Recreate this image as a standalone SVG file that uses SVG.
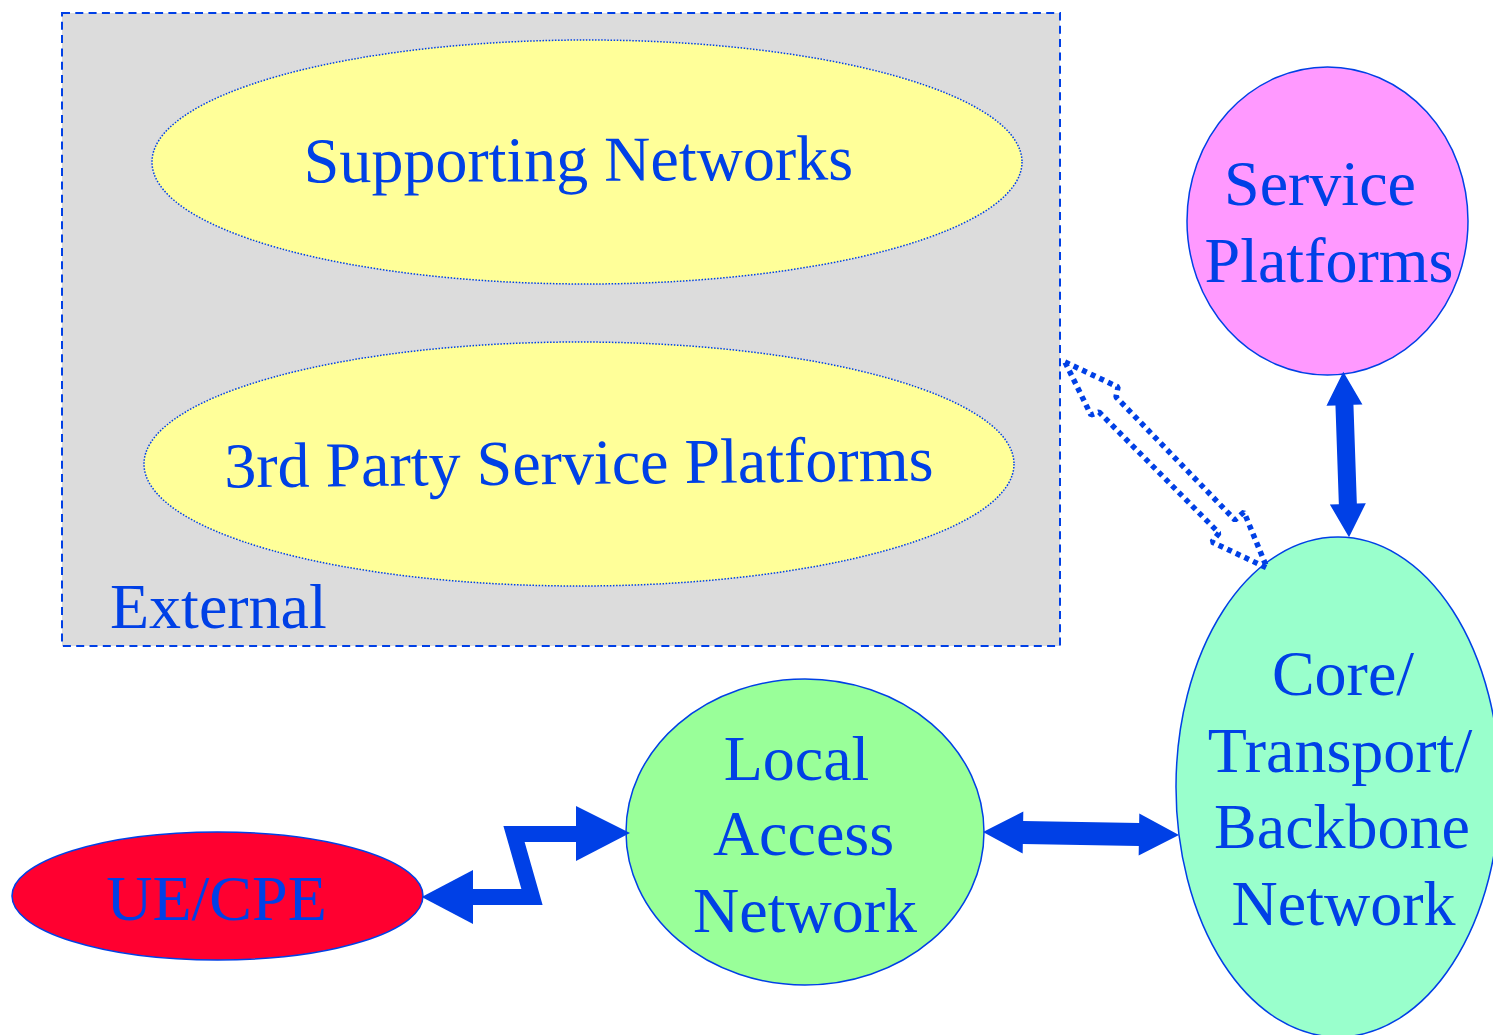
<svg xmlns="http://www.w3.org/2000/svg" width="1493" height="1035" viewBox="0 0 1493 1035">
  <style>
    .lbl { font-family: "Liberation Serif", "Times New Roman", serif; font-size: 64px; fill: #0040e6; text-anchor: middle; }
    .node { stroke: #0040e6; stroke-width: 1.5; }
    .dotted { stroke: #0040e6; stroke-width: 1.5; stroke-dasharray: 1.5 1.6; fill: #ffff99; }
    .arrow { fill: #0040e6; stroke: none; }
  </style>
  <rect width="1493" height="1035" fill="#ffffff"/>

  <!-- External domain container -->
  <g id="external">
    <rect x="62" y="13" width="998" height="633" fill="#dcdcdc" stroke="#0040e6" stroke-width="2" stroke-dasharray="8 5.3"/>
    <text class="lbl" x="110" y="628" style="text-anchor:start">External</text>
  </g>

  <g id="supporting-networks">
    <ellipse class="dotted" cx="587" cy="162" rx="435" ry="122"/>
    <text class="lbl" x="578.5" y="181" transform="rotate(-0.3 578.5 181)">Supporting Networks</text>
  </g>

  <g id="third-party-platforms">
    <ellipse class="dotted" cx="579" cy="464" rx="435" ry="122"/>
    <text class="lbl" x="579" y="484" transform="rotate(-0.55 579 484)">3rd Party Service Platforms</text>
  </g>

  <g id="service-platforms">
    <ellipse class="node" cx="1327.5" cy="221" rx="140.5" ry="154" fill="#ff99ff"/>
    <text class="lbl" x="1320" y="205">Service</text>
    <text class="lbl" x="1329" y="282">Platforms</text>
  </g>

  <g id="core-network">
    <ellipse class="node" cx="1338" cy="787" rx="162" ry="250" fill="#99ffcc"/>
    <text class="lbl" x="1343" y="695">Core/</text>
    <text class="lbl" x="1340" y="772">Transport/</text>
    <text class="lbl" x="1342" y="848">Backbone</text>
    <text class="lbl" x="1343.5" y="925">Network</text>
  </g>

  <g id="local-access">
    <ellipse class="node" cx="805" cy="832" rx="179" ry="153" fill="#99ff99"/>
    <text class="lbl" x="796.5" y="780">Local</text>
    <text class="lbl" x="803.5" y="855">Access</text>
    <text class="lbl" x="805" y="932">Network</text>
  </g>

  <g id="ue-cpe">
    <ellipse class="node" cx="217.5" cy="896" rx="205.5" ry="64" fill="#ff0030"/>
    <text class="lbl" x="216.5" y="920">UE/CPE</text>
  </g>

  <g id="connectors">
    <!-- external <-> core: hollow dotted double arrow -->
    <polygon points="1065,362 1118,387 1116,397 1235,520 1244,512 1267,568 1212,542 1219,533 1099,412 1091,415"
             fill="none" stroke="#0040e6" stroke-width="5.5" stroke-dasharray="5 4.5" stroke-linejoin="bevel"/>

    <!-- service platforms <-> core -->
    <polygon class="arrow" transform="translate(1343.3 371.7) rotate(88.03)"
             points="0,0 33.5,-18 33.5,-9 132.2,-9 132.2,-18 165.7,0 132.2,18 132.2,9 33.5,9 33.5,18"/>

    <!-- local access <-> core -->
    <polygon class="arrow" transform="translate(983 832) rotate(0.88)"
             points="0,0 40,-21 40,-11.5 156,-11.5 156,-21 196,0 156,21 156,11.5 40,11.5 40,21"/>

    <!-- UE/CPE <-> local access: radio link zigzag -->
    <polyline points="472,897 532,897 514,834 577,834" fill="none" stroke="#0040e6" stroke-width="16" stroke-linejoin="miter"/>
    <polygon class="arrow" points="421.7,897 473,870 473,924"/>
    <polygon class="arrow" points="630,833 576,806 576,861"/>
  </g>
</svg>
